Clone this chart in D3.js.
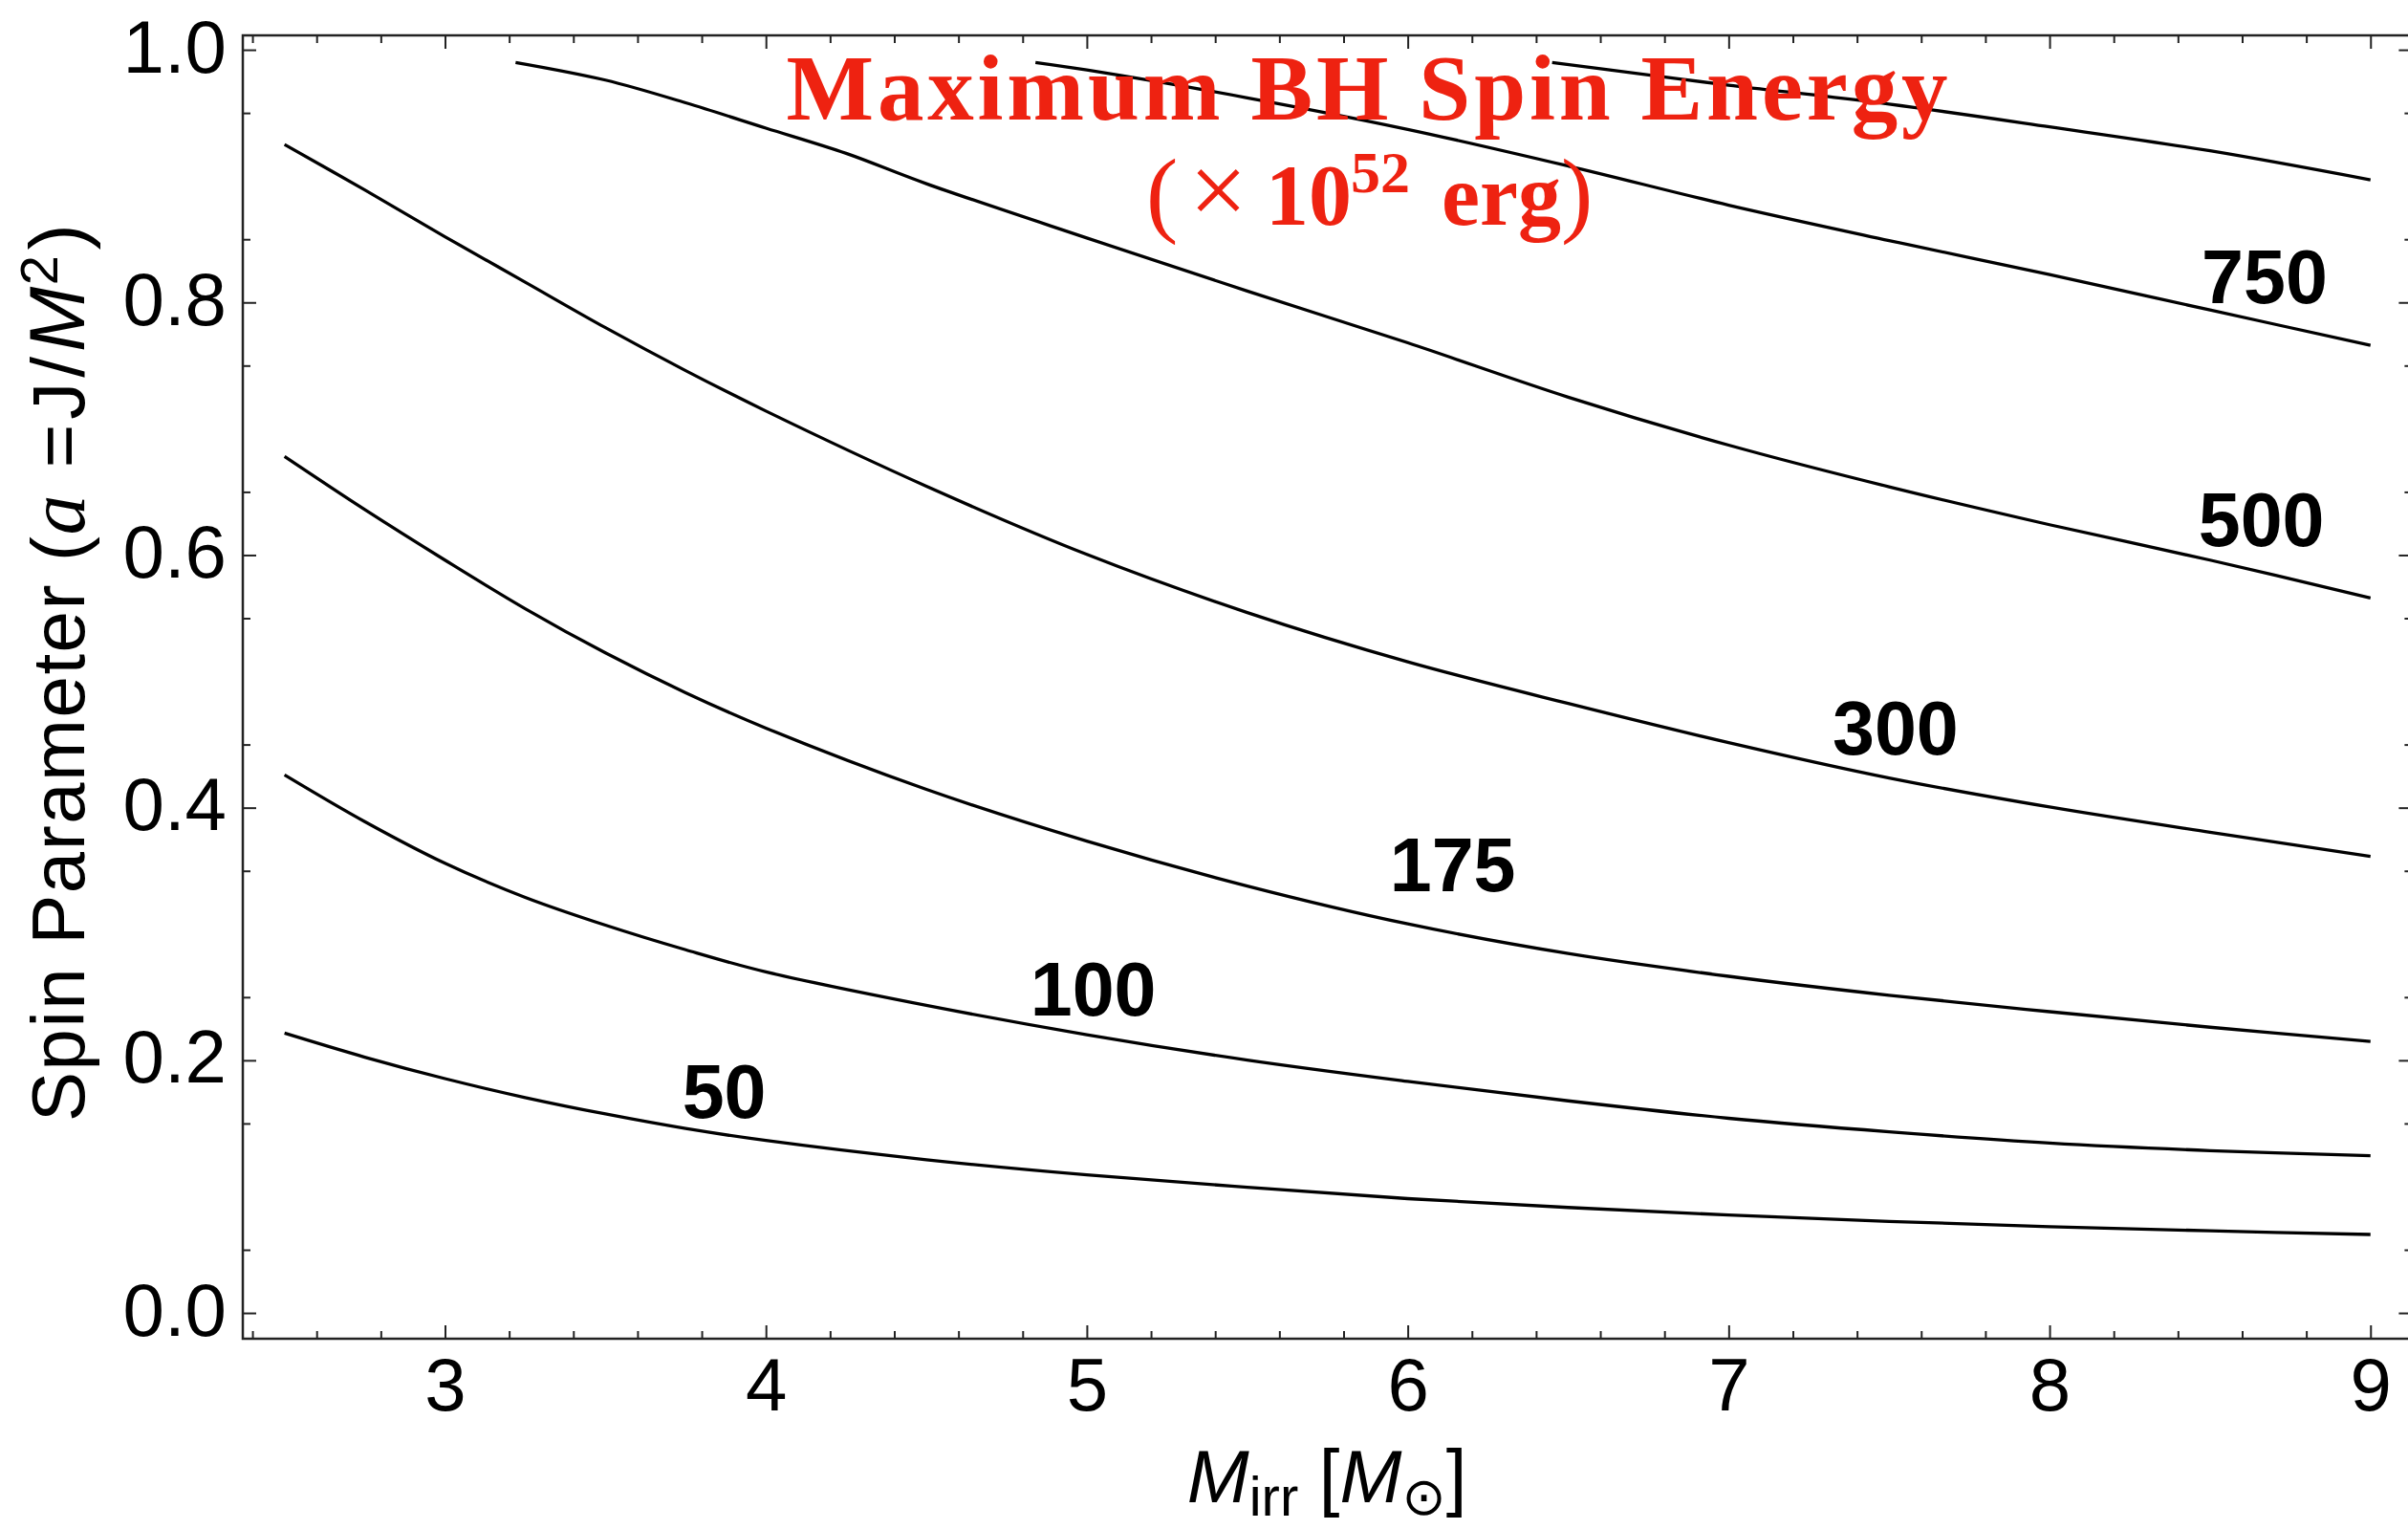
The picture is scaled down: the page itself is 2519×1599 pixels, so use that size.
<!DOCTYPE html>
<html>
<head>
<meta charset="utf-8">
<script src="https://cdn.jsdelivr.net/npm/d3@7"></script>
<style>
  body { margin: 0; background: #fff; }
  svg { display: block; }
</style>
</head>
<body>
<div id="chart"></div>
<script>
// contour lines: irreducible mass (x) vs spin parameter (y)
const mTop = [6.45, 6.75, 7, 7.5, 8, 8.5, 9];
const aTop = [0.990, 0.980, 0.972, 0.957, 0.939, 0.920, 0.897];

const m750 = [4.84, 5, 5.5, 6, 6.5, 7, 7.5, 8, 8.5, 9];
const a750 = [0.990, 0.984, 0.962, 0.937, 0.908, 0.877, 0.849, 0.822, 0.794, 0.766];

const m500 = [3.22, 3.5, 3.75, 4, 4.25, 4.5, 5, 5.5, 6, 6.5, 7, 7.5, 8, 8.5, 9];
const a500 = [0.990, 0.976, 0.958, 0.938, 0.918, 0.894, 0.851, 0.809, 0.768, 0.725, 0.687, 0.654, 0.624, 0.596, 0.566];

const mGrid = [2.5, 2.75, 3, 3.25, 3.5, 3.75, 4, 4.5, 5, 5.5, 6, 6.5, 7, 7.5, 8, 8.5, 9];
const a300 = [0.925, 0.889, 0.852, 0.816, 0.780, 0.746, 0.714, 0.6545, 0.6005, 0.5545, 0.5155, 0.4825, 0.4515, 0.4235, 0.4005, 0.3805, 0.3615];
const a175 = [0.678, 0.636, 0.596, 0.5575, 0.5225, 0.491, 0.463, 0.4145, 0.3735, 0.338, 0.308, 0.2845, 0.2665, 0.2515, 0.2385, 0.2262, 0.215];
const a100 = [0.426, 0.389, 0.356, 0.329, 0.307, 0.2875, 0.270, 0.2435, 0.2203, 0.2002, 0.1833, 0.1679, 0.1541, 0.1434, 0.1345, 0.1285, 0.1245];
const a50  = [0.2215, 0.2025, 0.1855, 0.1705, 0.1575, 0.146, 0.1365, 0.1213, 0.1093, 0.0995, 0.0905, 0.0835, 0.0775, 0.0725, 0.0683, 0.0650, 0.0621];

// contour labels and where they sit (data coords)
const labelText = ["750", "500", "300", "175", "100", "50"];
const labelM = [8.67, 8.66, 7.52, 6.14, 5.02, 3.87];
const labelA = [0.821, 0.628, 0.463, 0.355, 0.257, 0.176];

const xMajor = [3, 4, 5, 6, 7, 8, 9];
const yMajor = [0, 0.2, 0.4, 0.6, 0.8, 1.0];

const width = 2519;
const height = 1599;

const svg = d3.select("#chart")
  .append("svg")
  .attr("width", width)
  .attr("height", height)
  .style("font-family", "'Liberation Sans', Arial, 'DejaVu Sans', sans-serif");

const x = d3.scaleLinear().domain([2.37, 9.13]).range([254, 2523.4]);
const y = d3.scaleLinear().domain([-0.0204, 1.0114]).range([1400, 37]);

// minor ticks
const xMinor = d3.range(2.4, 9.13, 0.2).filter(v => Math.abs(v - Math.round(v)) > 0.01);
const yMinor = d3.range(0.05, 1.0, 0.1);

const FONT = 78;

// frame
svg.append("rect")
  .attr("x", x.range()[0])
  .attr("y", y.range()[1])
  .attr("width", x.range()[1] - x.range()[0])
  .attr("height", y.range()[0] - y.range()[1])
  .attr("fill", "none")
  .attr("stroke", "#222")
  .attr("stroke-width", 2.5);

function tickAxis(axisFn, scale, values, size, transform) {
  const g = svg.append("g")
    .attr("transform", transform)
    .call(axisFn(scale).tickValues(values).tickSize(-size).tickFormat(""));
  g.select(".domain").remove();
  g.selectAll(".tick line").attr("stroke", "#222").attr("stroke-width", 2);
  return g;
}

// bottom + top
tickAxis(d3.axisBottom, x, xMinor, 8, `translate(0,${y.range()[0]})`);
tickAxis(d3.axisTop, x, xMinor, 8, `translate(0,${y.range()[1]})`);
tickAxis(d3.axisTop, x, xMajor, 14, `translate(0,${y.range()[1]})`);
// left + right
tickAxis(d3.axisLeft, y, yMinor, 8, `translate(${x.range()[0]},0)`);
tickAxis(d3.axisRight, y, yMinor, 8, `translate(${x.range()[1]},0)`);
tickAxis(d3.axisRight, y, yMajor, 14, `translate(${x.range()[1]},0)`);

// labelled bottom axis
const xAxis = svg.append("g")
  .attr("transform", `translate(0,${y.range()[0]})`)
  .call(d3.axisBottom(x).tickValues(xMajor).tickSize(-14).tickFormat(d3.format("d")));
xAxis.select(".domain").remove();
xAxis.selectAll(".tick line").attr("stroke", "#222").attr("stroke-width", 2);
xAxis.selectAll("text")
  .attr("y", 75)
  .attr("dy", 0)
  .style("font-size", FONT + "px")
  .style("font-family", "'Liberation Sans', Arial, sans-serif")
  .attr("fill", "#000");

// labelled left axis
const yAxis = svg.append("g")
  .attr("transform", `translate(${x.range()[0]},0)`)
  .call(d3.axisLeft(y).tickValues(yMajor).tickSize(-14).tickPadding(17).tickFormat(d3.format(".1f")));
yAxis.select(".domain").remove();
yAxis.selectAll(".tick line").attr("stroke", "#222").attr("stroke-width", 2);
yAxis.selectAll("text")
  .attr("dy", 23)
  .style("font-size", FONT + "px")
  .style("font-family", "'Liberation Sans', Arial, sans-serif")
  .attr("fill", "#000");

// CONTOUR LINES
const series = [
  { m: mTop, a: aTop },
  { m: m750, a: a750 },
  { m: m500, a: a500 },
  { m: mGrid, a: a300 },
  { m: mGrid, a: a175 },
  { m: mGrid, a: a100 },
  { m: mGrid, a: a50 }
];

const line = d3.line()
  .x(d => x(d[0]))
  .y(d => y(d[1]))
  .curve(d3.curveCatmullRom.alpha(0.5));

svg.append("g")
  .selectAll("path")
  .data(series)
  .enter()
  .append("path")
  .attr("d", s => line(s.m.map((v, i) => [v, s.a[i]])))
  .attr("fill", "none")
  .attr("stroke", "#000")
  .attr("stroke-width", 3.3);

// CONTOUR LABELS
svg.append("g")
  .selectAll("text")
  .data(labelText)
  .enter()
  .append("text")
  .attr("x", (d, i) => x(labelM[i]))
  .attr("y", (d, i) => y(labelA[i]))
  .attr("dy", 28)
  .attr("text-anchor", "middle")
  .style("font-size", "79px")
  .style("font-weight", "bold")
  .attr("fill", "#000")
  .text(d => d);

// TITLE
const red = "#ee2211";
const serif = "'Liberation Serif', 'Times New Roman', serif";

svg.append("text")
  .attr("x", 1430)
  .attr("y", 125)
  .attr("text-anchor", "middle")
  .attr("textLength", 1215)
  .attr("lengthAdjust", "spacing")
  .style("font-family", serif)
  .style("font-size", "97px")
  .style("font-weight", "bold")
  .attr("fill", red)
  .text("Maximum BH Spin Energy");

const sub = svg.append("g")
  .style("font-family", serif)
  .attr("fill", red);
sub.append("text").attr("x", 1199).attr("y", 235)
  .style("font-size", "100px").text("(");
sub.append("text").attr("x", 1244).attr("y", 235)
  .style("font-size", "108px").text("\u00d7");
sub.append("text").attr("x", 1324).attr("y", 235)
  .style("font-size", "90px").style("font-weight", "bold").text("10");
sub.append("text").attr("x", 1413).attr("y", 201)
  .style("font-size", "62px").style("font-weight", "bold").text("52");
sub.append("text").attr("x", 1508).attr("y", 235)
  .style("font-size", "90px").style("font-weight", "bold").text("erg");
sub.append("text").attr("x", 1633).attr("y", 235)
  .style("font-size", "100px").text(")");

// X AXIS TITLE
const xTitle = svg.append("text")
  .attr("x", 1388)
  .attr("y", 1571)
  .attr("text-anchor", "middle")
  .style("font-size", FONT + "px")
  .attr("fill", "#000");
xTitle.append("tspan").style("font-style", "italic").text("M");
xTitle.append("tspan").attr("dy", 14).style("font-size", "58px").text("irr");
xTitle.append("tspan").attr("dy", -14).text(" [");
xTitle.append("tspan").style("font-style", "italic").text("M");
xTitle.append("tspan").attr("dy", 13).style("font-size", "55px")
  .style("font-family", "'DejaVu Sans', sans-serif").text("\u2299");
xTitle.append("tspan").attr("dy", -13).text("]");

// Y AXIS TITLE
const yTitle = svg.append("text")
  .attr("transform", "translate(88,1173) rotate(-90)")
  .attr("text-anchor", "start")
  .style("font-size", FONT + "px")
  .style("letter-spacing", "1.5px")
  .attr("fill", "#000");
yTitle.append("tspan").text("Spin Parameter (");
yTitle.append("tspan").style("font-style", "italic").style("font-family", serif)
  .style("font-size", "84px").text("a");
yTitle.append("tspan").style("letter-spacing", "5px").text(" =J/");
yTitle.append("tspan").style("font-style", "italic").style("font-size", "82px").text("M");
yTitle.append("tspan").attr("dy", -28).style("font-size", "56px").text("2");
yTitle.append("tspan").attr("dy", 28).attr("dx", 4).style("font-size", "82px").text(")");
</script>
</body>
</html>
